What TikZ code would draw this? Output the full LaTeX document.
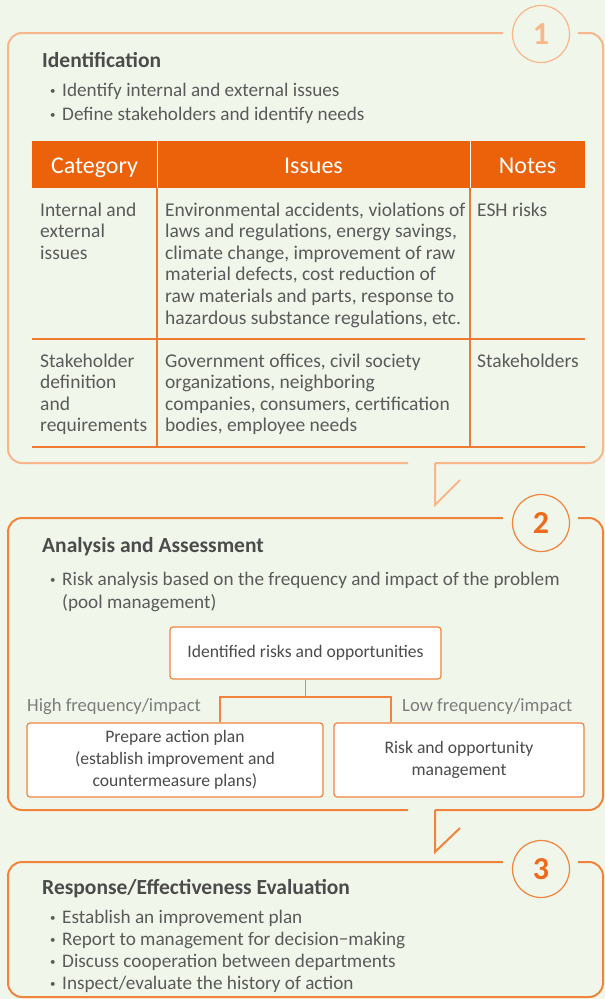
\documentclass[tikz,border=0pt]{standalone}
\usepackage{fontspec}
\setmainfont{Carlito}
\usepackage{xcolor}
\usetikzlibrary{positioning}
\definecolor{paper}{HTML}{F1F6EA}
\definecolor{peach}{HTML}{F8B68B}
\definecolor{rim}{HTML}{F0843C}
\definecolor{rule}{HTML}{EE7A33}
\definecolor{headfill}{HTML}{EB620B}
\definecolor{numcol}{HTML}{EE6A1F}
\definecolor{ink}{HTML}{4B4B4B}
\definecolor{body}{HTML}{5A5A5A}
\definecolor{soft}{HTML}{7C7C7C}
\newcommand{\bul}{\makebox[12pt][l]{\raisebox{1.6pt}{\fontsize{11}{11}\selectfont\textbullet}}}

\begin{document}
\begin{tikzpicture}[x=1pt, y=-1pt,
  frame/.style={line width=2pt, rounded corners=14pt},
  title/.style={anchor=base west, inner sep=0pt, font=\fontsize{21.5}{24}\selectfont\bfseries, text=ink},
  bullets/.style={anchor=base west, inner sep=0pt, align=left, font=\fontsize{19.2}{24}\selectfont, text=body},
  cell/.style={anchor=base west, inner sep=0pt, align=left, font=\fontsize{19.5}{21.6}\selectfont, text=body},
  head/.style={anchor=base, inner sep=0pt, font=\fontsize{24}{26}\selectfont, text=white},
  num/.style={circle, draw, line width=1.2pt, minimum size=57pt, inner sep=0pt, font=\fontsize{32}{32}\selectfont\bfseries},
  box/.style={draw=rim, line width=1.2pt, fill=white, rounded corners=3pt, align=center, inner sep=0pt, font=\fontsize{17.6}{22}\selectfont, text=ink},
  link/.style={draw=rim, line width=1.3pt},
  side/.style={anchor=base west, inner sep=0pt, font=\fontsize{18.6}{20}\selectfont, text=soft}
]
\useasboundingbox[fill=paper] (0,0) rectangle (605,999);

% step 1: identification
\node[num, draw=peach, text=peach] (one) at (541,34) {1};
\draw[frame, peach] (503,33) -- (8,33) -- (8,463) -- (408,463);
\draw[frame, peach] (435,463) -- (603,463) -- (603,33) -- (578,33);
\draw[peach, line width=2pt] (435,463) -- (435,505) -- (460,480);

\node[title] (idtitle) at (42,67) {Identification};
\node[bullets] (idlist) at (50,120) {\bul Identify internal and external issues\\
  \bul Define stakeholders and identify needs};

% table
\fill[headfill] (32,141) rectangle (585,188);
\draw[white, line width=0.8pt] (157,141) -- (157,188) (470,141) -- (470,188);
\draw[rule, line width=1.1pt] (157,188) -- (157,447) (470,188) -- (470,447);
\draw[rule, line width=1.5pt] (32,339) -- (585,339) (32,447) -- (585,447);

\node[head] (hcat) at (94.5,173) {Category};
\node[head] (hiss) at (313.5,173) {Issues};
\node[head] (hnot) at (527.5,173) {Notes};

\node[cell] (cat1) at (40,259.2) {Internal and\\external\\issues};
\node[cell] (iss1) at (165,324) {Environmental accidents, violations of\\
  laws and regulations, energy savings,\\
  climate change, improvement of raw\\
  material defects, cost reduction of\\
  raw materials and parts, response to\\
  hazardous substance regulations, etc.};
\node[cell] (not1) at (477,216) {ESH risks};

\node[cell] (cat2) at (40,431.8) {Stakeholder\\definition\\and\\requirements};
\node[cell] (iss2) at (165,431.8) {Government offices, civil society\\
  organizations, neighboring\\
  companies, consumers, certification\\
  bodies, employee needs};
\node[cell] (not2) at (477,367) {Stakeholders};

% step 2: analysis
\node[num, draw=rim, text=numcol] (two) at (541,523) {2};
\draw[frame, rim] (503,518) -- (8,518) -- (8,810) -- (408,810);
\draw[frame, rim] (435,810) -- (603,810) -- (603,518) -- (578,518);
\draw[rim, line width=2pt] (435,810) -- (435,852) -- (460,828);

\node[title] (antitle) at (42,552) {Analysis and Assessment};
\node[bullets, font=\fontsize{19.2}{23}\selectfont] (anlist) at (50,608) {\bul Risk analysis based on the frequency and impact of the problem\\
  \hspace*{12pt}(pool management)};

\node[box, minimum width=271pt, minimum height=52pt] (ident) at (305.5,653) {Identified risks and opportunities};
\node[box, minimum width=296pt, minimum height=74pt] (plan) at (175,760) {Prepare action plan\\(establish improvement and\\countermeasure plans)};
\node[box, minimum width=250pt, minimum height=74pt] (risk) at (459,760) {Risk and opportunity\\management};

\coordinate (splitL) at (220,697);
\coordinate (splitR) at (391,697);
\draw[link] (ident.south) -- (ident.south |- splitL);
\draw[link] (plan.north -| splitL) -- (splitL) -- (splitR) -- (risk.north -| splitR);

\node[side] (high) at (27,711) {High frequency/impact};
\node[side] (low) at (402,711) {Low frequency/impact};

% step 3: response
\node[num, draw=rim, text=numcol] (three) at (541,869) {3};
\draw[frame, rim] (503,862) -- (8,862) -- (8,997) -- (603,997) -- (603,862) -- (578,862);

\node[title] (retitle) at (42,894) {Response/Effectiveness Evaluation};
\node[bullets, font=\fontsize{19.2}{22}\selectfont] (relist) at (50,989) {\bul Establish an improvement plan\\
  \bul Report to management for decision−making\\
  \bul Discuss cooperation between departments\\
  \bul Inspect/evaluate the history of action};
\end{tikzpicture}
\end{document}
